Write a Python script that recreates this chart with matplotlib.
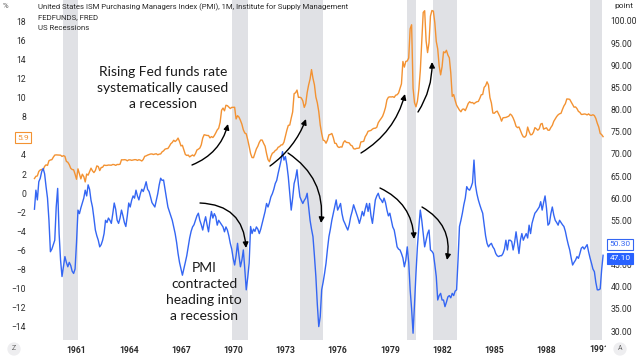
import matplotlib
matplotlib.use("Agg")
import matplotlib.pyplot as plt
import numpy as np
from matplotlib.transforms import Bbox, TransformedBbox

# ---------------- data (monthly, Aug 1958 - Apr 1991) ----------------
start_year, start_month = 1958, 8

fed_funds = [
    1.53, 1.76, 1.80, 2.27, 2.42,                                           # 1958
    2.48, 2.43, 2.80, 2.96, 2.90, 3.39, 3.47, 3.50, 3.76, 3.98, 4.00, 3.99, # 1959
    3.99, 3.97, 3.84, 3.92, 3.85, 3.32, 3.23, 2.98, 2.60, 2.47, 2.44, 1.98, # 1960
    1.45, 2.54, 2.02, 1.49, 1.98, 1.73, 1.17, 2.00, 1.88, 2.26, 2.61, 2.33, # 1961
    2.15, 2.37, 2.85, 2.78, 2.36, 2.68, 2.71, 2.93, 2.90, 2.90, 2.94, 2.93, # 1962
    2.92, 3.00, 2.98, 2.90, 3.00, 2.99, 3.02, 3.49, 3.48, 3.50, 3.48, 3.38, # 1963
    3.48, 3.48, 3.43, 3.47, 3.50, 3.50, 3.42, 3.50, 3.45, 3.36, 3.52, 3.85, # 1964
    3.90, 3.98, 4.04, 4.09, 4.10, 4.04, 4.09, 4.12, 4.01, 4.08, 4.10, 4.32, # 1965
    4.42, 4.60, 4.65, 4.67, 4.90, 5.17, 5.30, 5.53, 5.40, 5.53, 5.76, 5.40, # 1966
    4.94, 5.00, 4.53, 4.05, 3.94, 3.98, 3.79, 3.90, 3.99, 3.88, 4.13, 4.51, # 1967
    4.60, 4.71, 5.05, 5.76, 6.11, 6.07, 6.03, 6.03, 5.78, 5.91, 5.82, 6.02, # 1968
    6.30, 6.61, 6.79, 7.41, 8.67, 8.90, 8.61, 9.19, 9.15, 9.00, 8.85, 8.97, # 1969
    8.98, 8.98, 7.76, 8.10, 7.95, 7.61, 7.21, 6.62, 6.29, 6.20, 5.60, 4.90, # 1970
    4.14, 3.72, 3.71, 4.16, 4.63, 4.91, 5.31, 5.56, 5.55, 5.20, 4.91, 4.14, # 1971
    3.50, 3.29, 3.83, 4.17, 4.27, 4.46, 4.55, 4.80, 4.87, 5.04, 5.06, 5.33, # 1972
    5.94, 6.58, 7.09, 7.12, 7.84, 8.49, 10.40, 10.50, 10.78, 10.01, 10.03, 9.95,  # 1973
    9.65, 8.97, 9.35, 10.51, 11.31, 11.93, 12.92, 12.01, 11.34, 10.06, 9.45, 8.53, # 1974
    7.13, 6.24, 5.54, 5.49, 5.22, 5.55, 6.10, 6.14, 6.24, 5.82, 5.22, 5.20, # 1975
    4.87, 4.77, 4.84, 4.82, 5.29, 5.48, 5.31, 5.29, 5.25, 5.02, 4.95, 4.65, # 1976
    4.61, 4.68, 4.69, 4.73, 5.35, 5.39, 5.42, 5.90, 6.14, 6.47, 6.51, 6.56, # 1977
    6.70, 6.78, 6.79, 6.89, 7.36, 7.60, 7.81, 8.04, 8.45, 8.96, 9.76, 10.03,  # 1978
    10.07, 10.06, 10.09, 10.01, 10.24, 10.29, 10.47, 10.94, 11.43, 13.77, 13.18, 13.78,  # 1979
    13.82, 14.13, 17.19, 17.61, 10.98, 9.47, 9.03, 9.61, 10.87, 12.81, 15.85, 18.90,    # 1980
    19.08, 15.93, 14.70, 15.72, 18.52, 19.10, 19.04, 17.82, 15.87, 15.08, 13.31, 12.37,  # 1981
    13.22, 14.78, 14.68, 14.94, 14.45, 14.15, 12.59, 10.12, 10.31, 9.71, 9.20, 8.95,     # 1982
    8.68, 8.51, 8.77, 8.80, 8.63, 8.98, 9.37, 9.56, 9.45, 9.48, 9.34, 9.47, # 1983
    9.56, 9.59, 9.91, 10.29, 10.32, 11.06, 11.23, 11.64, 11.30, 9.99, 9.43, 8.38,  # 1984
    8.35, 8.50, 8.58, 8.27, 7.97, 7.53, 7.88, 7.90, 7.92, 7.99, 8.05, 8.27, # 1985
    8.14, 7.86, 7.48, 6.99, 6.85, 6.92, 6.56, 6.17, 5.89, 5.85, 6.04, 6.91, # 1986
    6.43, 6.10, 6.13, 6.37, 6.85, 6.73, 6.58, 6.73, 7.22, 7.29, 6.69, 6.77, # 1987
    6.83, 6.58, 6.58, 6.87, 7.09, 7.51, 7.75, 8.01, 8.19, 8.30, 8.35, 8.76, # 1988
    9.12, 9.36, 9.85, 9.84, 9.81, 9.53, 9.24, 8.99, 9.02, 8.84, 8.55, 8.45, # 1989
    8.23, 8.24, 8.28, 8.26, 8.18, 8.29, 8.15, 8.13, 8.20, 8.11, 7.81, 7.31, # 1990
    6.91, 6.25, 6.12, 5.91,                                                 # 1991
]

pmi = [
    57.5, 61.8, 59.6, 63.7, 64.5,                                           # 1958
    66.0, 66.7, 65.5, 62.6, 60.0, 55.0, 47.9, 48.5, 49.5, 50.5, 58.0, 62.2, # 1959
    52.0, 46.0, 42.3, 44.5, 46.8, 45.5, 44.5, 45.5, 44.8, 43.5, 43.0, 44.0, # 1960
    50.0, 57.3, 56.5, 57.8, 58.9, 60.0, 61.8, 60.5, 63.0, 62.0, 59.5, 58.0, # 1961
    55.5, 52.8, 51.5, 50.5, 49.0, 49.5, 50.5, 52.0, 55.0, 54.5, 55.5, 55.0, # 1962
    54.3, 56.5, 58.9, 57.5, 55.0, 54.3, 55.5, 57.3, 56.0, 54.5, 53.6, 56.0, # 1963
    58.9, 58.0, 59.5, 60.5, 60.0, 61.8, 60.5, 59.6, 61.0, 62.0, 61.5, 62.5, # 1964
    63.7, 62.0, 61.5, 60.3, 59.0, 58.5, 58.0, 59.5, 61.0, 63.0, 64.5, 64.0, # 1965
    64.1, 62.0, 60.0, 58.0, 57.0, 56.0, 55.0, 53.5, 52.0, 50.0, 47.5, 45.5, # 1966
    44.0, 42.6, 44.0, 45.5, 47.0, 49.0, 51.0, 52.5, 53.5, 54.0, 55.0, 56.0, # 1967
    56.6, 55.0, 54.0, 52.8, 54.5, 55.8, 54.0, 52.4, 55.0, 57.0, 55.5, 56.5, # 1968
    55.8, 53.9, 55.0, 54.5, 54.0, 53.5, 52.4, 53.5, 52.8, 51.5, 49.8, 48.5, # 1969
    46.4, 44.9, 47.0, 49.8, 47.0, 44.5, 46.0, 48.3, 44.0, 39.3, 42.0, 45.3, # 1970
    53.6, 52.0, 53.0, 52.5, 53.5, 53.0, 52.0, 53.0, 54.3, 55.5, 57.0, 58.8, # 1971
    58.0, 59.0, 60.3, 61.0, 62.0, 63.3, 64.0, 65.6, 67.0, 68.5, 70.5, 68.6, # 1972
    69.4, 67.5, 64.8, 61.0, 57.3, 60.0, 63.3, 64.5, 66.4, 63.0, 60.3, 59.5, # 1973
    58.8, 59.5, 60.0, 61.1, 58.0, 55.0, 53.0, 51.3, 47.0, 42.3, 36.0, 31.0, # 1974
    33.2, 39.3, 41.0, 43.0, 45.3, 48.5, 51.3, 53.0, 55.0, 56.5, 58.0, 59.6, # 1975
    57.3, 58.0, 58.8, 56.5, 55.0, 54.3, 53.5, 52.8, 54.0, 55.8, 57.0, 58.5, # 1976
    57.5, 56.5, 55.5, 54.3, 55.5, 57.0, 56.0, 57.5, 58.8, 57.0, 58.8, 56.0, # 1977
    54.3, 57.0, 59.6, 60.5, 61.1, 60.0, 59.6, 59.0, 60.0, 59.0, 57.3, 56.0, # 1978
    56.6, 55.0, 53.5, 52.8, 51.0, 49.0, 48.5, 48.3, 47.5, 46.5, 44.5, 46.0, # 1979
    49.0, 45.5, 39.3, 35.0, 29.5, 36.0, 43.0, 49.0, 53.5, 57.3, 55.0, 52.0, # 1980
    49.0, 50.5, 52.0, 52.8, 48.3, 48.0, 47.5, 45.0, 42.3, 37.0, 38.0, 38.5, # 1981
    37.0, 37.0, 35.5, 36.5, 37.7, 38.0, 37.5, 38.5, 38.0, 39.0, 39.3, 46.0, # 1982
    53.6, 55.0, 56.6, 58.5, 60.0, 62.6, 62.0, 61.8, 62.5, 63.5, 68.6, 63.0, # 1983
    61.0, 59.6, 58.5, 57.5, 56.6, 54.0, 51.5, 49.8, 49.0, 49.5, 49.8, 49.0, # 1984
    48.5, 47.5, 47.0, 46.8, 47.0, 47.0, 47.5, 48.5, 50.5, 48.3, 50.5, 50.5, # 1985
    50.2, 48.3, 50.0, 52.4, 50.0, 47.5, 50.5, 52.0, 50.5, 51.3, 52.0, 51.0, # 1986
    53.9, 52.0, 54.3, 55.5, 56.6, 57.0, 57.5, 58.0, 59.2, 57.3, 59.0, 60.5, # 1987
    57.7, 53.9, 54.3, 56.5, 58.0, 56.2, 55.0, 54.5, 53.9, 55.0, 54.5, 54.0, # 1988
    53.6, 52.5, 50.9, 49.5, 48.3, 46.5, 44.9, 45.5, 46.0, 46.8, 46.4, 47.5, # 1989
    48.7, 49.0, 48.5, 49.0, 49.5, 47.9, 46.5, 45.3, 44.0, 43.4, 41.0, 39.3, # 1990
    39.3, 39.5, 43.8, 47.1,                                                 # 1991
]

# US recessions (start, end) as decimal years
recessions = [(1960.25, 1961.08), (1969.92, 1970.83), (1973.83, 1975.17),
              (1980.00, 1980.50), (1981.50, 1982.83), (1990.50, 1991.17)]

left_ticks = [18, 16, 14, 12, 10, 8, 4, 2, 0, -2, -4, -6, -8, -10, -12, -14]
right_ticks = [100, 95, 90, 85, 80, 75, 70, 65, 60, 55, 45, 40, 35, 30]
year_ticks = [1961, 1964, 1967, 1970, 1973, 1976, 1979, 1982, 1985, 1988]

# ---------------- styling ----------------
ORANGE = "#F39232"
BLUE = "#3466F3"
BAND = "#E0E1E5"
TXT = "#2b2b2b"
W, H = 639, 356

def P(x, y):
    return (x / W, 1 - y / H)

n = len(fed_funds)
t = start_year + (start_month - 1) / 12 + np.arange(n) / 12.0

fig = plt.figure(figsize=(W / 100, H / 100), dpi=100)
ax = fig.add_axes([33 / W, 1 - 340 / H, (605 - 33) / W, 340 / H])
ax2 = ax.twinx()

for s, e in recessions:
    ax.axvspan(s, e, color=BAND, lw=0, zorder=0)

ax.plot(t, fed_funds, color=ORANGE, lw=1.0, zorder=3)
ax2.plot(t, pmi, color=BLUE, lw=1.0, zorder=3)

ax.set_xlim(1958.50, 1991.36)
ax.set_ylim(-15.36, 20.2)
ax2.set_ylim(27.97, 104.74)

for a in (ax, ax2):
    for sp in a.spines.values():
        sp.set_visible(False)
    a.patch.set_visible(False)

tick_font = dict(family="Roboto", size=6.2)
ax.set_yticks(left_ticks)
ax.set_yticklabels([f"{v}".replace("-", "\u2212") for v in left_ticks], **tick_font, color=TXT)
ax.tick_params(axis="y", length=0, pad=5)
ax2.set_yticks(right_ticks)
ax2.set_yticklabels([f"{v:.2f}" for v in right_ticks], **tick_font, color=TXT)
ax2.tick_params(axis="y", length=0, pad=4)
ax.set_xticks(year_ticks)
ax.set_xticklabels([str(y) for y in year_ticks], family="Roboto", size=6.2,
                   color=TXT, fontweight="bold")
ax.tick_params(axis="x", length=0, pad=4)

# truncated 1991 label at right edge
t91 = fig.text(*P(303 + 17 * 17.4, 349), "1991", ha="center", va="center",
               family="Roboto", size=6.2, color=TXT, fontweight="bold", clip_on=True)
t91.set_clip_box(TransformedBbox(Bbox([[0, 0], [606 / W, 1]]), fig.transFigure))

# header / legend text
hdr = dict(family="Roboto", size=5.6, color=TXT, ha="left", va="center")
fig.text(*P(38, 7), "United States ISM Purchasing Managers Index (PMI), 1M, Institute for Supply Management", **hdr)
fig.text(*P(38, 17.5), "FEDFUNDS, FRED", **hdr)
fig.text(*P(38, 28), "US Recessions", **hdr)
fig.text(*P(3, 6), "%", family="Roboto", size=5.6, color="#555", ha="left", va="center")
fig.text(*P(614, 6), "point", family="Roboto", size=6.0, color=TXT, ha="left", va="center")

# price boxes
fig.text(*P(23, 137.5), "5.9", ha="center", va="center", family="Roboto", size=6.0,
         color=ORANGE, bbox=dict(boxstyle="square,pad=0.25", fc="white", ec=ORANGE, lw=0.8), zorder=10)
fig.text(*P(620, 244.5), "50.30", ha="center", va="center", family="Roboto", size=6.0,
         color=BLUE, bbox=dict(boxstyle="square,pad=0.25", fc="white", ec=BLUE, lw=0.8), zorder=10)
fig.text(*P(620, 258.5), "47.10", ha="center", va="center", family="Roboto", size=6.0,
         color="white", bbox=dict(boxstyle="square,pad=0.25", fc="#2962FF", ec="#2962FF", lw=0.8), zorder=10)

# circle buttons
for (x, y, s) in [(14, 349, "Z"), (620, 349, "A")]:
    fig.text(*P(x, y), s, ha="center", va="center", family="Roboto", size=5.0, color="#666",
             bbox=dict(boxstyle="circle,pad=0.45", fc="#EEEEF0", ec="none"))

# annotations
ann = dict(family="Lato", size=10, color="#1a1a1a", ha="center", va="center", linespacing=1.4)
fig.text(*P(163, 87.5), "Rising Fed funds rate\nsystematically caused\na recession", **ann)
fig.text(*P(204, 291.5), "PMI\ncontracted\nheading into\na recession", **ann)

arrows = [
    ((192, 165), (228, 124), 0.25),
    ((270, 166), (306, 119), 0.15),
    ((361, 153), (405, 94), 0.2),
    ((418, 112), (432, 62), 0.15),
    ((200, 203), (246, 248), -0.45),
    ((288, 153), (321, 223), -0.3),
    ((380, 188), (414, 239), -0.3),
    ((422, 207), (447, 260), -0.35),
]
for a0, a1, rad in arrows:
    fig.add_artist(matplotlib.patches.FancyArrowPatch(
        P(*a0), P(*a1), transform=fig.transFigure,
        arrowstyle="-|>", mutation_scale=8, connectionstyle=f"arc3,rad={rad}",
        color="black", lw=1.0, shrinkA=0, shrinkB=0, zorder=20))

fig.savefig("out.png", dpi=100)
